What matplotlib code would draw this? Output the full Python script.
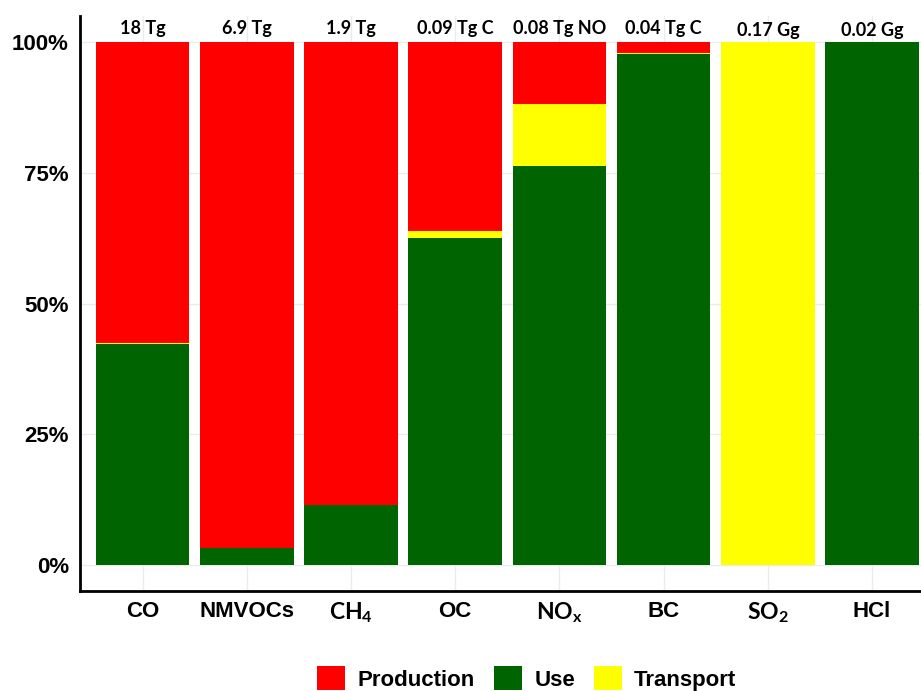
import matplotlib.pyplot as plt
from matplotlib.patches import Patch

# Emission shares per species, stacked Use / Transport / Production
species = ['CO', 'NMVOCs', r'$\mathregular{CH_4}$', 'OC', r'$\mathregular{NO_x}$',
           'BC', r'$\mathregular{SO_2}$', 'HCl']
use = [0.422, 0.033, 0.115, 0.626, 0.763, 0.977, 0.0, 1.0]
transport = [0.003, 0.0, 0.0, 0.013, 0.118, 0.003, 1.0, 0.0]
production = [0.575, 0.967, 0.885, 0.361, 0.119, 0.020, 0.0, 0.0]
totals = ['18 Tg', '6.9 Tg', '1.9 Tg', '0.09 Tg C', '0.08 Tg NO', '0.04 Tg C',
          '0.17 Gg', '0.02 Gg']
yticks = [0, 0.25, 0.5, 0.75, 1.0]
ytick_labels = ['0%', '25%', '50%', '75%', '100%']

c_prod = '#FF0000'
c_use = '#006400'
c_trans = '#FFFF00'

fig = plt.figure(figsize=(9.21, 6.91), dpi=100)
ax = fig.add_axes([0.0869, 0.1447, 0.9131, 0.8321])

x = list(range(1, len(species) + 1))
w = 0.9
bottom2 = [u + t for u, t in zip(use, transport)]
ax.bar(x, use, width=w, color=c_use, zorder=2)
ax.bar(x, transport, width=w, bottom=use, color=c_trans, zorder=2)
ax.bar(x, production, width=w, bottom=bottom2, color=c_prod, zorder=2)

# totals above each bar
for xi, lab in zip(x, totals):
    yy = 1.022 if lab.endswith('Gg') else 1.027
    ax.text(xi, yy, lab, ha='center', va='center', fontsize=13,
            fontweight='bold', family='Lato', color='black')

ax.set_xlim(0.4, 8.47)
ax.set_ylim(-0.05, 1.05)
ax.set_yticks(yticks)
ax.set_yticklabels(ytick_labels, fontsize=16, fontweight='bold',
                   family='Liberation Sans')
ax.set_xticks(x)
labels = ax.set_xticklabels(species, fontsize=16, fontweight='bold',
                            family='Liberation Sans')
for lab, name in zip(labels, species):
    if name.startswith('$'):
        lab.set_family('Lato')
        lab.set_fontsize(16.5)
ax.tick_params(axis='both', length=0, colors='black')
ax.tick_params(axis='y', pad=8)
ax.tick_params(axis='x', pad=7)

ax.grid(True, color='#EBEBEB', linewidth=1.0, zorder=0)
ax.set_axisbelow(True)
for s in ['top', 'right']:
    ax.spines[s].set_visible(False)
for s in ['left', 'bottom']:
    ax.spines[s].set_linewidth(2)
    ax.spines[s].set_color('black')

handles = [Patch(facecolor=c_prod, label='Production'),
           Patch(facecolor=c_use, label='Use'),
           Patch(facecolor=c_trans, label='Transport')]
fig.legend(handles=handles, loc='center', bbox_to_anchor=(0.572, 0.018),
           ncol=3, frameon=False, handlelength=1.27, handleheight=1.27,
           handletextpad=0.55, columnspacing=0.85,
           prop={'family': 'Liberation Sans', 'weight': 'bold', 'size': 16})

fig.savefig('out.png', dpi=100)
